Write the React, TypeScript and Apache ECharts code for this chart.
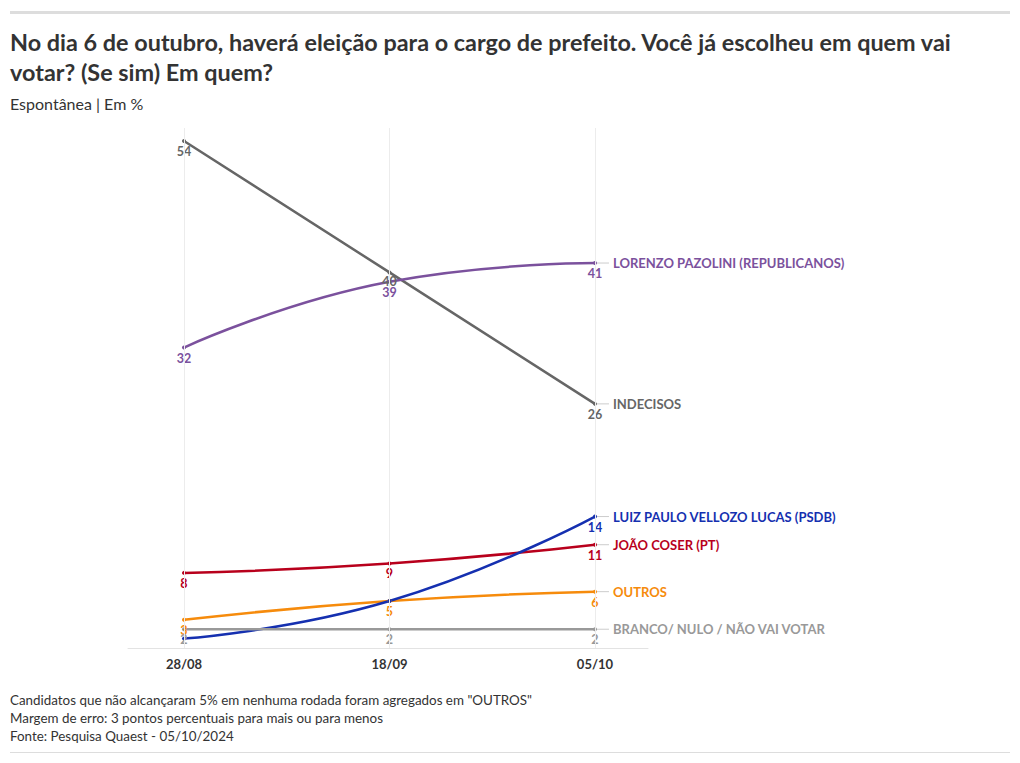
import React, { useEffect, useRef } from "react";
import * as echarts from "echarts";

const dates = ["28/08", "18/09", "05/10"];
const seriesNames = [
  "INDECISOS",
  "LORENZO PAZOLINI (REPUBLICANOS)",
  "JOÃO COSER (PT)",
  "OUTROS",
  "LUIZ PAULO VELLOZO LUCAS (PSDB)",
  "BRANCO/ NULO / NÃO VAI VOTAR",
];
const indecisos = [54, 40, 26];
const pazolini = [32, 39, 41];
const coser = [8, 9, 11];
const outros = [3, 5, 6];
const vellozo = [1, 5, 14];
const branco = [2, 2, 2];
const seriesValues = [indecisos, pazolini, coser, outros, vellozo, branco];
const seriesColors = ["#666666", "#7b519d", "#b8001c", "#f68b0c", "#1530b0", "#999999"];
// point labels hidden in the reference (overlapping)
const hiddenLabels: Record<number, number[]> = { 4: [0, 1] };

const FONT = "Lato";

export default function App() {
  const ref = useRef<HTMLDivElement>(null);
  useEffect(() => {
    document.body.style.margin = "0";
    const chart = echarts.init(ref.current!, null, { renderer: "svg" });
    const series: any[] = seriesNames.map((name, si) => ({
      type: "line",
      name,
      smooth: 0.5,
      symbol: "circle",
      symbolSize: 4,
      lineStyle: { width: 2.5, color: seriesColors[si] },
      itemStyle: { color: seriesColors[si] },
      label: {
        show: true,
        position: "bottom",
        distance: 2,
        fontFamily: FONT,
        fontSize: 12.5,
        fontWeight: "bold",
        color: seriesColors[si],
        formatter: (p: any) =>
          (hiddenLabels[si] || []).includes(p.dataIndex) ? "" : String(p.value[1]),
      },
      endLabel: {
        show: true,
        distance: 2,
        formatter: "{l|}{t|" + name + "}",
        rich: {
          l: { width: 12, height: 1, backgroundColor: "#cccccc" },
          t: {
            padding: [0, 0, 0, 4],
            fontFamily: FONT,
            fontSize: 13,
            fontWeight: "bold",
            color: seriesColors[si],
          },
        },
      },
      data: seriesValues[si].map((v, i) =>
        si === 0 && i === 1 ? { value: [i, v], label: { offset: [0, -1] } } : { value: [i, v] }
      ),
    }));
    series.push({
      type: "line",
      data: [],
      markLine: {
        silent: true,
        symbol: "none",
        label: { show: false },
        lineStyle: { color: "#ececec", width: 1, type: "solid" },
        data: dates.map((_, i) => ({ xAxis: i })),
      },
    });
    chart.setOption({
      animation: false,
      textStyle: { fontFamily: FONT },
      title: [
        {
          text:
            "No dia 6 de outubro, haverá eleição para o cargo de prefeito. Você já escolheu em quem vai\nvotar? (Se sim) Em quem?",
          left: 10,
          top: 27,
          padding: 0,
          textStyle: { fontFamily: FONT, fontSize: 23.4, fontWeight: "bold", color: "#333333", lineHeight: 30 },
        },
        {
          text: "Espontânea | Em %",
          left: 10,
          top: 93,
          padding: 0,
          textStyle: { fontFamily: FONT, fontSize: 16, fontWeight: "normal", color: "#333333", lineHeight: 20 },
        },
        {
          text:
            'Candidatos que não alcançaram 5% em nenhuma rodada foram agregados em "OUTROS"\nMargem de erro: 3 pontos percentuais para mais ou para menos\nFonte: Pesquisa Quaest - 05/10/2024',
          left: 10,
          top: 691,
          padding: 0,
          textStyle: { fontFamily: FONT, fontSize: 13.4, fontWeight: "normal", color: "#333333", lineHeight: 18 },
        },
      ],
      graphic: [
        { type: "rect", shape: { x: 10, y: 11, width: 1000, height: 3 }, style: { fill: "#dddddd" } },
        { type: "rect", shape: { x: 10, y: 752, width: 1000, height: 1 }, style: { fill: "#dddddd" } },
      ],
      grid: { left: 128, right: 372, top: 128, bottom: 115 },
      xAxis: {
        type: "value",
        min: -0.2725,
        max: 2.258,
        splitLine: { show: false },
        axisTick: { show: false },
        axisLine: { show: true, onZero: false, lineStyle: { color: "#e3e3e3" } },
        axisLabel: {
          customValues: [0, 1, 2],
          formatter: (v: number) => dates[Math.round(v)] ?? "",
          margin: 9,
          fontFamily: FONT,
          fontSize: 13,
          fontWeight: "bold",
          color: "#333333",
        },
      },
      yAxis: { type: "value", show: false, min: 0, max: 55.38, splitLine: { show: false } },
      series,
    });
    return () => chart.dispose();
  }, []);
  return <div ref={ref} style={{ width: 1020, height: 763 }} />;
}
